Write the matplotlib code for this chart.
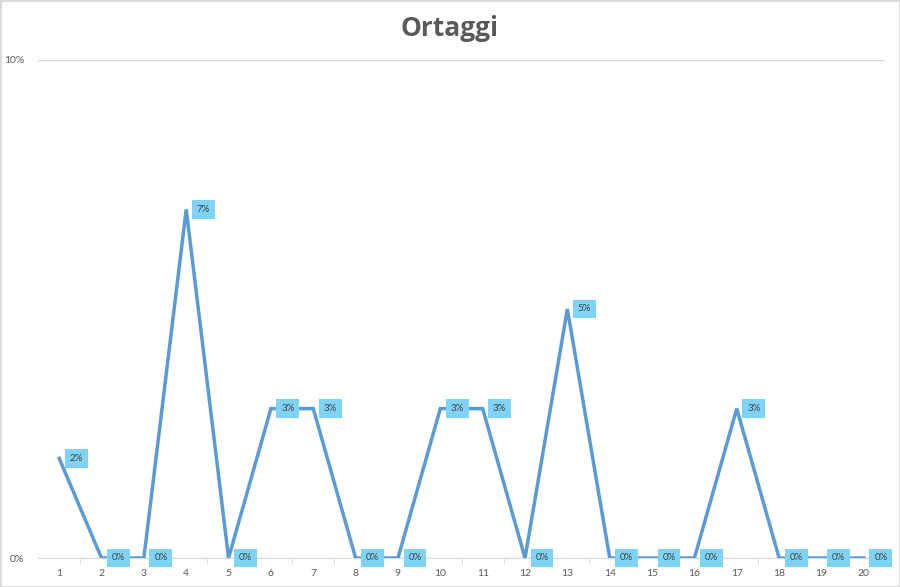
import matplotlib
matplotlib.use("Agg")
import matplotlib.pyplot as plt
from matplotlib.patches import Rectangle
from matplotlib.ticker import FuncFormatter

# ── data ──────────────────────────────────────────────
categories = list(range(1, 21))
values = [2, 0, 0, 7, 0, 3, 3, 0, 0, 3, 3, 0, 5, 0, 0, 0, 3, 0, 0, 0]  # percent
title = "Ortaggi"

LINE = "#5B9BD5"
LABEL_BG = "#7FD3F7"
GREY = "#595959"

fig = plt.figure(figsize=(9, 5.87), dpi=100)
ax = fig.add_axes([38 / 900, 1 - 558 / 587, (885 - 38) / 900, (558 - 60) / 587])

ax.plot(categories, values, color=LINE, lw=2.5, solid_joinstyle="miter", zorder=3)

for x, v in zip(categories, values):
    ax.annotate(f"{v}%", (x, v), xytext=(17, 0), textcoords="offset pixels",
                ha="center", va="center", fontsize=7, color="#404040",
                family="Lato", zorder=4,
                bbox=dict(boxstyle="square,pad=0.5", fc=LABEL_BG, ec="none"))

ax.set_xlim(0.5, 20.5)
ax.set_ylim(0, 10)
ax.set_yticks([0, 10])
ax.yaxis.set_major_formatter(FuncFormatter(lambda v, _: f"{v:.0f}%"))
ax.set_xticks(categories)
ax.set_xticks([c + 0.5 for c in categories[:-1]], minor=True)
ax.tick_params(axis="x", which="major", length=0, pad=8, labelsize=7.5, labelcolor=GREY)
ax.tick_params(axis="x", which="minor", length=4, color="#D9D9D9", direction="out")
ax.tick_params(axis="y", length=0, pad=10, labelsize=7.5, labelcolor=GREY)
for lab in ax.get_xticklabels() + ax.get_yticklabels():
    lab.set_family("Lato")

ax.grid(axis="y", color="#D9D9D9", lw=1)
ax.set_axisbelow(True)
for side in ("top", "right", "left"):
    ax.spines[side].set_visible(False)
ax.spines["bottom"].set_color("#D9D9D9")

fig.text(0.5, 1 - 28 / 587, title, ha="center", va="center",
         fontsize=19, fontweight="bold", color=GREY, family="Open Sans")

fig.patches.append(Rectangle((0, 0), 1, 1, transform=fig.transFigure,
                             fill=False, ec="#D9D9D9", lw=2))

fig.savefig("out.png", dpi=100)
